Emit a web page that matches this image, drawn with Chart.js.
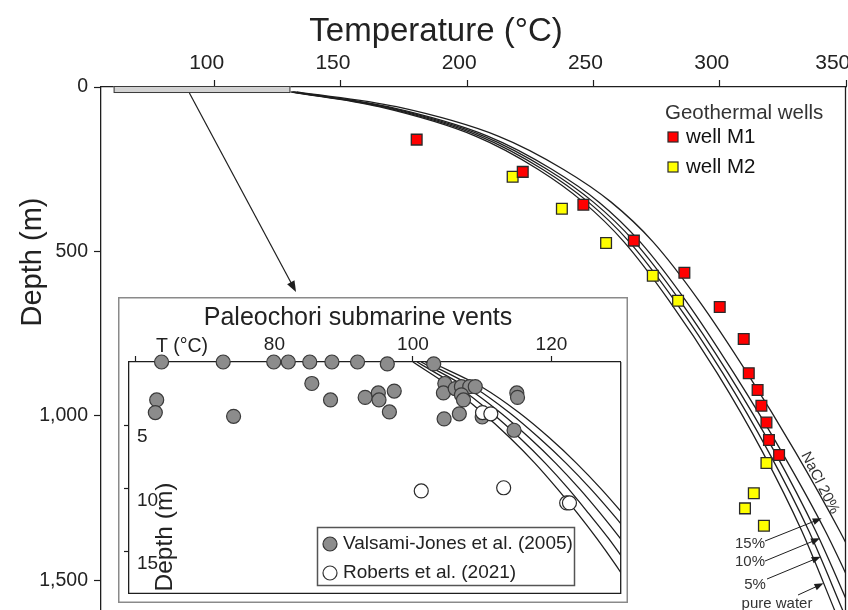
<!DOCTYPE html>
<html>
<head>
<meta charset="utf-8">
<title>Boiling point with depth</title>
<script src="https://cdn.jsdelivr.net/npm/chart.js@4.4.1/dist/chart.umd.min.js"></script>
<style>
  body { margin: 0; background: #fff; }
  #wrap { position: relative; width: 848px; height: 610px; overflow: hidden; }
  canvas { position: absolute; }
  #main { left: 0; top: 0; }
  #inset { left: 118px; top: 297px; }
</style>
</head>
<body>
<div id="wrap">
  <canvas id="main" width="848" height="610"></canvas>
  <canvas id="inset" width="510" height="306"></canvas>
</div>
<script>
// geothermal wells: temperature (°C) vs depth (m)
const M1_TEMP  = [180, 222, 246, 266, 286, 300, 309.5, 311.5, 315, 316.5, 318.5, 319.5, 323.5];
const M1_DEPTH = [160, 258, 358, 467, 565, 669, 766, 870, 921, 969, 1020, 1073, 1119];
const M2_TEMP  = [218, 237.5, 255, 273.5, 283.5, 318.5, 313.5, 310, 317.5];
const M2_DEPTH = [273, 370, 474, 574, 650, 1143, 1235, 1281, 1334];

// boiling point curves (pure water and NaCl solutions)
const BPD_DEPTH = [15, 60, 150, 250, 350, 470, 650, 870, 1110, 1350, 1600];
const BPD_PURE  = [130, 165, 203.5, 228, 246, 262, 280, 299, 317, 332.5, 346];
const BPD_5     = [130.5, 166.2, 205.1, 229.8, 248, 264.1, 282.2, 301.2, 319.4, 335.3, 349.2];
const BPD_10    = [131, 167.4, 206.7, 231.6, 250, 266.2, 284.3, 303.3, 321.8, 338, 352.5];
const BPD_15    = [131.5, 168.6, 208.3, 233.5, 252.2, 268.4, 286.6, 305.6, 324.6, 341.8, 357.3];
const BPD_20    = [132.5, 172, 212.5, 238, 257, 273.5, 291.8, 310.9, 330, 347.5, 364];

const X_TICKS = [100, 150, 200, 250, 300, 350];
const Y_TICKS = [0, 500, 1000, 1500];

// submarine vents (inset): temperature (°C) vs depth (m)
const VJ_TEMP  = [63.7, 72.6, 79.9, 82.0, 85.1, 88.3, 92.0, 96.3, 103.0, 63.0, 62.8, 74.1, 85.4, 88.1, 93.1, 95.0,
                  95.1, 97.3, 96.6, 104.6, 104.4, 106.1, 107.0, 108.2, 109.0, 107.0, 107.3, 104.5, 106.7, 110.0, 115.0, 115.1, 114.6];
const VJ_DEPTH = [0, 0, 0, 0, 0, 0, 0, 0.15, 0.15, 3.0, 4.0, 4.3, 1.7, 3.0, 2.8, 2.45,
                  3.0, 2.3, 3.95, 1.7, 2.45, 2.1, 1.95, 1.95, 1.95, 2.6, 3.0, 4.5, 4.1, 4.35, 2.45, 2.8, 5.4];
const RB_TEMP  = [110.05, 111.25, 101.2, 113.1, 122.2, 122.6];
const RB_DEPTH = [4.0, 4.1, 10.2, 9.95, 11.15, 11.15];

const SHALLOW_DEPTH = [0, 2, 4, 6, 8, 10, 12, 14, 16, 18.3];
const SHALLOW_PURE  = [100, 105.5, 110, 114, 117.6, 120.8, 123.8, 126.6, 129.2, 132];
const SHALLOW_5     = [100.6, 106.6, 111.3, 115.4, 119.1, 122.4, 125.4, 128.3, 130.9, 133.7];
const SHALLOW_10    = [101.2, 107.7, 112.6, 116.8, 120.6, 124, 127.1, 130, 132.7, 135.5];
const SHALLOW_15    = [101.8, 108.8, 113.9, 118.2, 122.1, 125.6, 128.8, 131.8, 134.5, 137.3];
const SHALLOW_20    = [102.6, 110, 115.3, 119.7, 123.6, 127.1, 130.3, 133.3, 136, 138.8];

const INSET_T = [60, 130];
const INSET_MAX_DEPTH = 18.3;
const INSET_X_TICKS = [60, 80, 100, 120];
const INSET_Y_TICKS = [5, 10, 15];

const FONT = '"Liberation Sans", Arial, sans-serif';
const INK = '#1e1e1e';
Chart.defaults.font.family = FONT;
Chart.defaults.color = '#222';

const pts = (xs, ys) => xs.map((v, i) => ({ x: v, y: ys[i] }));

function curve(label, temps, depths) {
  return {
    label, data: pts(temps, depths), showLine: true, pointRadius: 0,
    borderColor: INK, borderWidth: 1.3, cubicInterpolationMode: 'monotone'
  };
}

// fixed axis box, no extra room for overhanging tick labels
function fixSize(w, h) {
  return s => {
    if (w !== null) s.width = w;
    if (h !== null) s.height = h;
    s.paddingLeft = s.paddingRight = s.paddingTop = s.paddingBottom = 0;
  };
}

function arrow(ctx, x1, y1, x2, y2, head) {
  const a = Math.atan2(y2 - y1, x2 - x1);
  const c = Math.cos(a), s = Math.sin(a);
  ctx.beginPath();
  ctx.moveTo(x1, y1);
  ctx.lineTo(x2 - head * 0.8 * c, y2 - head * 0.8 * s);
  ctx.stroke();
  ctx.beginPath();
  ctx.moveTo(x2, y2);
  ctx.lineTo(x2 - head * c + head * 0.38 * s, y2 - head * s - head * 0.38 * c);
  ctx.lineTo(x2 - head * c - head * 0.38 * s, y2 - head * s + head * 0.38 * c);
  ctx.closePath();
  ctx.fill();
}

function label(ctx, str, x, y, size, align, color) {
  ctx.font = size + 'px ' + FONT;
  ctx.fillStyle = color || '#222';
  ctx.textAlign = align || 'center';
  ctx.textBaseline = 'middle';
  ctx.fillText(str, x, y);
}

const mainDecor = {
  id: 'mainDecor',
  afterDatasetsDraw(chart) {
    const { ctx, scales: { x, y } } = chart;
    // surface bar marking the temperature range of the inset
    const bx0 = x.getPixelForValue(INSET_T[0]), bx1 = x.getPixelForValue(INSET_T[1]);
    const by0 = y.getPixelForValue(0) - 1, by1 = y.getPixelForValue(INSET_MAX_DEPTH);
    ctx.save();
    ctx.fillStyle = '#d2d2d2';
    ctx.strokeStyle = '#3a3a3a';
    ctx.lineWidth = 1;
    ctx.fillRect(bx0, by0, bx1 - bx0, by1 - by0);
    ctx.strokeRect(bx0 + 0.5, by0 + 0.5, bx1 - bx0 - 1, by1 - by0 - 1);
    ctx.strokeStyle = INK;
    ctx.fillStyle = INK;
    ctx.lineWidth = 1.2;
    arrow(ctx, x.getPixelForValue(90), by1, 296, 292, 11);
    ctx.restore();
  },
  afterDraw(chart) {
    const { ctx, chartArea: a } = chart;
    ctx.save();
    // right frame
    ctx.strokeStyle = INK;
    ctx.lineWidth = 1.3;
    ctx.beginPath();
    ctx.moveTo(a.right - 0.5, a.top);
    ctx.lineTo(a.right - 0.5, a.bottom);
    ctx.stroke();

    label(ctx, 'Temperature (°C)', 436, 32, 33);
    ctx.save();
    ctx.translate(33, 262);
    ctx.rotate(-Math.PI / 2);
    label(ctx, 'Depth (m)', 0, 0, 29);
    ctx.restore();

    // wells legend
    label(ctx, 'Geothermal wells', 665, 113, 20.5, 'left', '#333');
    [['well M1', '#ff0000', 137], ['well M2', '#ffff00', 167]].forEach(([t, c, yy]) => {
      ctx.fillStyle = c;
      ctx.fillRect(668, yy - 5, 10, 10);
      ctx.strokeStyle = '#2a2a2a';
      ctx.lineWidth = 1.2;
      ctx.strokeRect(668, yy - 5, 10, 10);
      label(ctx, t, 686, yy, 20.5, 'left', '#111');
    });

    // salinity labels for the boiling curves
    ctx.strokeStyle = INK;
    ctx.fillStyle = INK;
    ctx.lineWidth = 1;
    arrow(ctx, 765, 541, 821.7, 518.3, 9);
    arrow(ctx, 765, 561, 820, 538.3, 9);
    arrow(ctx, 767, 579, 820.7, 556.7, 9);
    arrow(ctx, 798, 595, 823.5, 583.3, 9);
    label(ctx, '15%', 750, 544, 15, 'center', '#333');
    label(ctx, '10%', 750, 562, 15, 'center', '#333');
    label(ctx, '5%', 755, 585, 15, 'center', '#333');
    label(ctx, 'pure water', 777, 604, 15, 'center', '#333');
    ctx.save();
    ctx.translate(820, 483);
    ctx.rotate(63 * Math.PI / 180);
    label(ctx, 'NaCl 20%', 0, 0, 15, 'center', '#333');
    ctx.restore();
    ctx.restore();
  }
};

new Chart(document.getElementById('main'), {
  type: 'scatter',
  data: {
    datasets: [
      { label: 'well M1', data: pts(M1_TEMP, M1_DEPTH), pointStyle: 'rect', pointRadius: 7.6,
        backgroundColor: '#ff0000', borderColor: '#2a2a2a', borderWidth: 1.3 },
      { label: 'well M2', data: pts(M2_TEMP, M2_DEPTH), pointStyle: 'rect', pointRadius: 7.6,
        backgroundColor: '#ffff00', borderColor: '#2a2a2a', borderWidth: 1.3 },
      curve('pure water', BPD_PURE, BPD_DEPTH),
      curve('5%', BPD_5, BPD_DEPTH),
      curve('10%', BPD_10, BPD_DEPTH),
      curve('15%', BPD_15, BPD_DEPTH),
      curve('NaCl 20%', BPD_20, BPD_DEPTH)
    ]
  },
  options: {
    responsive: false, animation: false, devicePixelRatio: 1, events: [],
    layout: { autoPadding: false, padding: { top: 0, left: 0, right: 2, bottom: 0 } },
    plugins: { legend: { display: false }, tooltip: { enabled: false } },
    scales: {
      x: {
        type: 'linear', position: 'top', min: 55, max: 350,
        afterBuildTicks: s => { s.ticks = X_TICKS.map(v => ({ value: v })); },
        afterFit: fixSize(null, 87),
        grid: { drawOnChartArea: false, tickLength: 7, tickColor: INK, tickWidth: 1.2 },
        border: { color: INK, width: 1.3 },
        // the last label is nudged left so it stays inside the canvas
        ticks: { font: { size: 21 }, color: '#222', padding: 4, labelOffset: -8, maxRotation: 0,
                 callback: v => (v === X_TICKS[X_TICKS.length - 1] ? v + '\u2002' : v) }
      },
      y: {
        type: 'linear', reverse: true, min: 0, max: 1590,
        afterBuildTicks: s => { s.ticks = Y_TICKS.map(v => ({ value: v })); },
        afterFit: fixSize(101, null),
        grid: { drawOnChartArea: false, tickLength: 7, tickColor: INK, tickWidth: 1.2 },
        border: { color: INK, width: 1.3 },
        ticks: { font: { size: 19.5 }, color: '#222', padding: 6 }
      }
    }
  },
  plugins: [mainDecor]
});

const insetDecor = {
  id: 'insetDecor',
  beforeDraw(chart) {
    const { ctx, width, height } = chart;
    ctx.save();
    ctx.fillStyle = '#fff';
    ctx.fillRect(0, 0, width, height);
    ctx.restore();
  },
  afterDraw(chart) {
    const { ctx, width, height, chartArea: a } = chart;
    ctx.save();
    ctx.strokeStyle = '#8a8a8a';
    ctx.lineWidth = 1.5;
    ctx.strokeRect(0.75, 0.75, width - 1.5, height - 1.5);
    ctx.strokeStyle = INK;
    ctx.lineWidth = 1.3;
    ctx.beginPath();
    ctx.moveTo(a.right, a.top);
    ctx.lineTo(a.right, a.bottom);
    ctx.lineTo(a.left, a.bottom);
    ctx.stroke();

    label(ctx, 'Paleochori submarine vents', 240, 21, 25);
    label(ctx, 'T (°C)', 64, 50, 19.5);
    ctx.save();
    ctx.translate(47, 240);
    ctx.rotate(-Math.PI / 2);
    label(ctx, 'Depth (m)', 0, 0, 24.5);
    ctx.restore();

    // legend box
    ctx.fillStyle = '#fff';
    ctx.fillRect(199, 230, 258, 59);
    ctx.strokeStyle = '#555';
    ctx.lineWidth = 1.5;
    ctx.strokeRect(199.5, 230.5, 257, 58);
    [['Valsami-Jones et al. (2005)', '#8c8c8c', 247], ['Roberts et al. (2021)', '#ffffff', 276]].forEach(([t, c, yy]) => {
      ctx.beginPath();
      ctx.arc(212, yy, 7, 0, Math.PI * 2);
      ctx.fillStyle = c;
      ctx.fill();
      ctx.strokeStyle = '#333';
      ctx.lineWidth = 1.2;
      ctx.stroke();
      label(ctx, t, 225, yy, 19, 'left', '#222');
    });
    ctx.restore();
  }
};

new Chart(document.getElementById('inset'), {
  type: 'scatter',
  data: {
    datasets: [
      { label: 'Roberts et al. (2021)', data: pts(RB_TEMP, RB_DEPTH), pointRadius: 7, clip: false,
        backgroundColor: '#ffffff', borderColor: '#2a2a2a', borderWidth: 1.2 },
      { label: 'Valsami-Jones et al. (2005)', data: pts(VJ_TEMP, VJ_DEPTH), pointRadius: 7, clip: false,
        backgroundColor: '#8c8c8c', borderColor: '#3a3a3a', borderWidth: 1.2 },
      curve('pure water', SHALLOW_PURE, SHALLOW_DEPTH),
      curve('5%', SHALLOW_5, SHALLOW_DEPTH),
      curve('10%', SHALLOW_10, SHALLOW_DEPTH),
      curve('15%', SHALLOW_15, SHALLOW_DEPTH),
      curve('NaCl 20%', SHALLOW_20, SHALLOW_DEPTH)
    ]
  },
  options: {
    responsive: false, animation: false, devicePixelRatio: 1, events: [],
    layout: { autoPadding: false, padding: { top: 0, left: 0, right: 7.3, bottom: 9.7 } },
    plugins: { legend: { display: false }, tooltip: { enabled: false } },
    scales: {
      x: {
        type: 'linear', position: 'top', min: 59, max: INSET_T[1],
        afterBuildTicks: s => { s.ticks = INSET_X_TICKS.map(v => ({ value: v })); },
        afterFit: fixSize(null, 65),
        grid: { drawOnChartArea: false, tickLength: 6, tickColor: INK, tickWidth: 1.2 },
        border: { color: INK, width: 1.3 },
        ticks: { font: { size: 19 }, color: '#222', padding: 0, maxRotation: 0,
                 callback: v => (v === INSET_T[0] ? '' : v) }
      },
      y: {
        type: 'linear', reverse: true, min: 0, max: INSET_MAX_DEPTH,
        afterBuildTicks: s => { s.ticks = INSET_Y_TICKS.map(v => ({ value: v })); },
        afterFit: fixSize(11, null),
        grid: { drawOnChartArea: false, tickLength: 5, tickColor: INK, tickWidth: 1.2 },
        border: { color: INK, width: 1.3 },
        ticks: { font: { size: 19 }, color: '#222', mirror: true, padding: 8, labelOffset: 12 }
      }
    }
  },
  plugins: [insetDecor]
});
</script>
</body>
</html>
